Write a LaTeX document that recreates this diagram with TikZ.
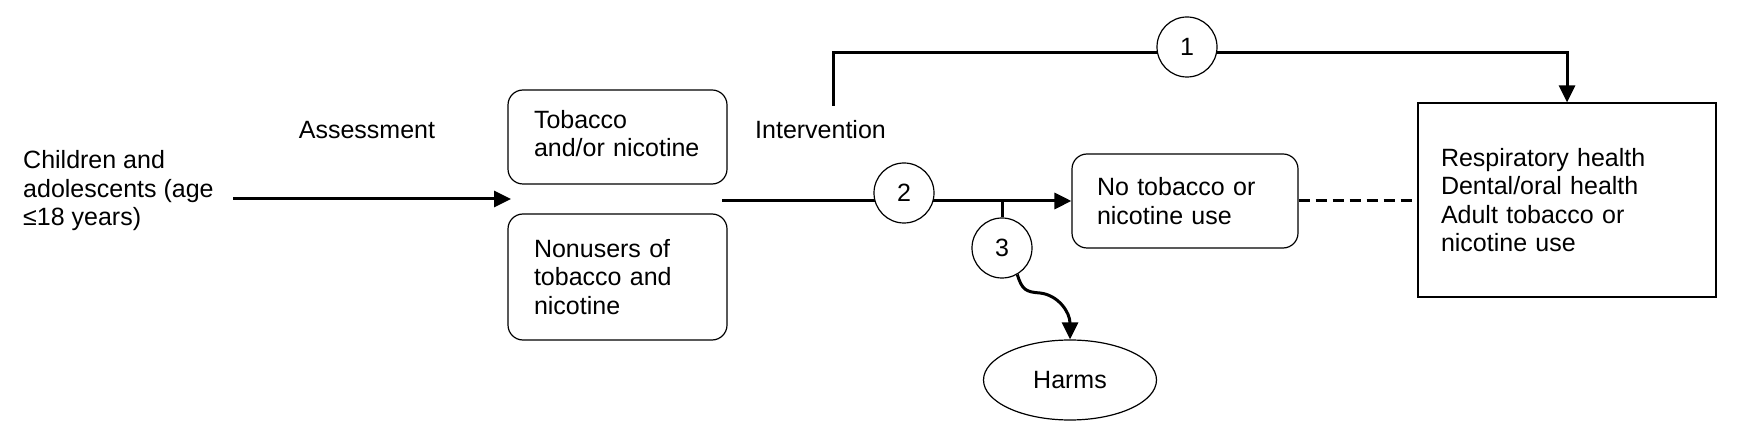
\documentclass[tikz,border=0pt]{standalone}
\usepackage{fontspec}
\setmainfont{Liberation Sans}
\usetikzlibrary{arrows.meta,shapes.geometric,backgrounds}
\begin{document}
\begin{tikzpicture}[x=1pt,y=-1pt,
  every node/.style={font=\fontsize{25}{28.5}\selectfont},
  rbox/.style={draw, line width=1.2pt, rounded corners=15pt, align=left, inner sep=0pt, fill=white},
  sbox/.style={draw, line width=1.2pt, align=left, inner sep=0pt, fill=white},
  numcirc/.style={draw, circle, line width=1.2pt, minimum size=60pt, inner sep=0pt, fill=white},
  flow/.style={line width=3pt, -{Triangle[length=17pt,width=16pt]}},
  plain/.style={line width=3pt},
  dashline/.style={line width=3pt, dash pattern=on 11pt off 6pt},
  lbl/.style={inner sep=0pt, align=left}
]
\useasboundingbox (0,0) rectangle (1743,443);

% text labels
\node[lbl, anchor=base west] (pop) at (23,226) {Children and\\adolescents (age\\≤18 years)};
\node[lbl, anchor=base] (assess) at (367,139) {Assessment};
\node[lbl, anchor=base west] (interv) at (755,139) {Intervention};

% boxes
\node[rbox, minimum width=219pt, minimum height=94pt, text width=167pt, text depth=36pt] (users) at (617.5,137) {Tobacco\\and/or nicotine};
\node[rbox, minimum width=219pt, minimum height=126pt, text width=167pt] (nonusers) at (617.5,277) {Nonusers of\\tobacco and\\nicotine};
\node[rbox, minimum width=226pt, minimum height=94pt, text width=176pt] (notob) at (1185,201) {No tobacco or\\nicotine use};
\node[sbox, minimum width=298pt, minimum height=194pt, text width=252pt] (outcome) at (1567,200) {Respiratory health\\Dental/oral health\\Adult tobacco or\\nicotine use};
\node[draw, ellipse, line width=1.2pt, minimum width=173pt, minimum height=80pt, inner sep=0pt, fill=white] (harms) at (1070,380) {Harms};

% numbered circles
\node[numcirc] (c1) at (1187,47) {1};
\node[numcirc] (c2) at (904,193) {2};
\node[numcirc] (c3) at (1002,248) {3};

% free ends
\coordinate (arrstart) at (233,199);
\coordinate (split) at (511,199);
\coordinate (mstart) at (722,201);
\coordinate (istart) at (833,106);
\coordinate (top) at (833,53);

\begin{scope}[on background layer]
\draw[flow] (arrstart) -- (split);
\draw[flow] (mstart) -- (notob.west);
\draw[plain] (c3.north |- mstart) -- (c3.north);
\draw[flow] (istart) -- (top) -- (top -| outcome.north) -- (outcome.north);
\draw[dashline] (notob.east) -- (notob.east -| outcome.west);
\draw[flow] (c3.-60) .. controls (1022,290) and (1026,292) .. (1040,293) .. controls (1058,295) and (1070,312) .. (harms.north);
\end{scope}
\end{tikzpicture}
\end{document}
